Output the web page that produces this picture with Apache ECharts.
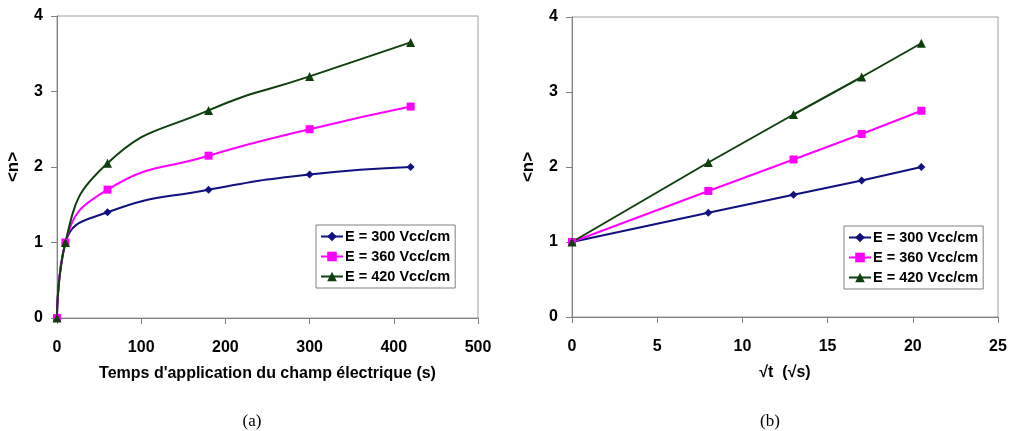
<!DOCTYPE html>
<html>
<head>
<meta charset="utf-8">
<script src="https://cdn.jsdelivr.net/npm/echarts@6/dist/echarts.min.js"></script>
<style>
  html, body { margin: 0; padding: 0; background: #ffffff; }
  #chart { width: 1010px; height: 431px; }
</style>
</head>
<body>
<div id="chart"></div>
<script>
// Field strengths (series names)
const seriesNames = ['E = 300 Vcc/cm', 'E = 360 Vcc/cm', 'E = 420 Vcc/cm'];

// (a) mean value <n> versus time of field application t (s)
const timeS = [0, 10, 60, 180, 300, 420];
const nVsTime300 = [0, 1, 1.4, 1.7, 1.9, 2.0];
const nVsTime360 = [0, 1, 1.7, 2.15, 2.5, 2.8];
const nVsTime420 = [0, 1, 2.05, 2.75, 3.2, 3.65];

// (b) mean value <n> versus square root of time (√s)
const sqrtTime = [0, 8, 13, 17, 20.5];
const nVsSqrt300 = [1, 1.39, 1.63, 1.82, 2.0];
const nVsSqrt360 = [1, 1.68, 2.1, 2.44, 2.75];
const nVsSqrt420 = [1, 2.06, 2.7, 3.2, 3.65];

// Captions under each panel
const captions = ['(a)', '(b)'];

const colors = ['#10107e', '#ff00ff', '#0f3f0f'];
const symbols = ['diamond', 'rect', 'triangle'];
const symbolSizes = [8, 8, 9];
const FONT = '"Liberation Sans", Arial, sans-serif';

function pairs(xs, ys) {
  return xs.map((x, i) => [x, ys[i]]);
}

function makeSeries(idx, axisIdx, xs, ys, smooth) {
  return {
    name: seriesNames[idx],
    type: 'line',
    xAxisIndex: axisIdx,
    yAxisIndex: axisIdx,
    data: pairs(xs, ys),
    smooth: smooth,
    symbol: symbols[idx],
    symbolSize: symbolSizes[idx],
    showAllSymbol: true,
    lineStyle: { color: colors[idx], width: 2 },
    itemStyle: { color: colors[idx] },
    emphasis: { disabled: true },
    animation: false
  };
}

function valueAxis(gridIndex, min, max, interval, name, nameGap, isX) {
  return {
    type: 'value',
    gridIndex: gridIndex,
    min: min, max: max, interval: interval,
    name: name,
    nameLocation: 'middle',
    nameGap: nameGap,
    nameTextStyle: { fontFamily: FONT, fontWeight: 'bold', fontSize: isX ? 16 : 17, color: '#000' },
    axisLine: { show: true, onZero: false, lineStyle: { color: '#808080', width: 1 } },
    axisTick: { show: true, inside: false, length: 6, lineStyle: { color: '#808080' } },
    axisLabel: {
      fontFamily: FONT, fontWeight: 'bold', fontSize: 16, color: '#000',
      margin: isX ? 22 : 14
    },
    splitLine: { show: false }
  };
}

function makeLegend(left, top) {
  return {
    orient: 'vertical',
    left: left, top: top,
    data: seriesNames,
    itemWidth: 22,
    itemHeight: 12,
    itemGap: 5,
    padding: [4, 5, 4, 4],
    backgroundColor: '#fff',
    borderColor: '#808080',
    borderWidth: 1,
    borderRadius: 0,
    selectedMode: false,
    textStyle: { fontFamily: FONT, fontWeight: 'bold', fontSize: 14.5, color: '#000', padding: [0, 0, 0, -3] }
  };
}

const chart = echarts.init(document.getElementById('chart'), null, { renderer: 'canvas' });

chart.setOption({
  backgroundColor: '#ffffff',
  animation: false,
  title: [
    { text: captions[0], left: 247, top: 408, textAlign: 'center',
      textStyle: { fontFamily: '"Liberation Serif", "Times New Roman", serif', fontWeight: 'normal', fontSize: 17, color: '#000' } },
    { text: captions[1], left: 765, top: 408, textAlign: 'center',
      textStyle: { fontFamily: '"Liberation Serif", "Times New Roman", serif', fontWeight: 'normal', fontSize: 17, color: '#000' } }
  ],
  grid: [
    { left: 57, top: 16, width: 421, height: 302, show: true, borderColor: '#a0a0a0', borderWidth: 1, backgroundColor: 'transparent' },
    { left: 572, top: 17, width: 426, height: 300, show: true, borderColor: '#a0a0a0', borderWidth: 1, backgroundColor: 'transparent' }
  ],
  xAxis: [
    valueAxis(0, 0, 500, 100, "Temps d'application du champ électrique (s)", 48, true),
    valueAxis(1, 0, 25, 5, '√t  (√s)', 48, true)
  ],
  yAxis: [
    valueAxis(0, 0, 4, 1, '<n>', 35, false),
    valueAxis(1, 0, 4, 1, '<n>', 35, false)
  ],
  legend: [
    makeLegend(316, 225),
    makeLegend(844, 226)
  ],
  series: [
    makeSeries(0, 0, timeS, nVsTime300, 0.5),
    makeSeries(1, 0, timeS, nVsTime360, 0.5),
    makeSeries(2, 0, timeS, nVsTime420, 0.5),
    makeSeries(0, 1, sqrtTime, nVsSqrt300, false),
    makeSeries(1, 1, sqrtTime, nVsSqrt360, false),
    makeSeries(2, 1, sqrtTime, nVsSqrt420, false)
  ]
});
</script>
</body>
</html>
